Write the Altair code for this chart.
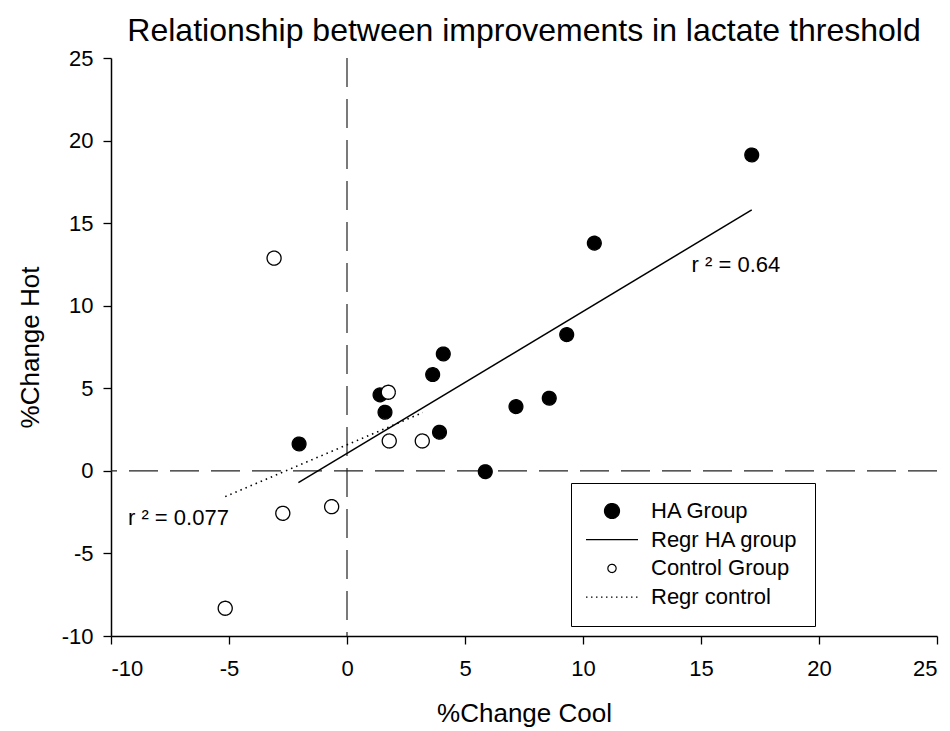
import altair as alt
import pandas as pd

# HA group (filled circles)
ha_x = [-2.03, 1.40, 1.61, 3.63, 4.08, 3.92, 5.86, 7.16, 8.57, 9.31, 10.48, 17.15]
ha_y = [1.63, 4.60, 3.55, 5.83, 7.08, 2.34, -0.05, 3.89, 4.40, 8.25, 13.79, 19.13]

# Control group (open circles)
ctrl_x = [-3.09, 1.75, 1.79, 3.19, -2.72, -0.65, -5.16]
ctrl_y = [12.88, 4.76, 1.81, 1.81, -2.57, -2.17, -8.32]

# Regression line end points
ha_fit_x = [-2.06, 17.15]
ha_fit_y = [-0.71, 15.80]
ctrl_fit_x = [-5.16, 3.21]
ctrl_fit_y = [-1.56, 3.53]

legend_names = ["HA Group", "Regr HA group", "Control Group", "Regr control"]
tick_values = [-10, -5, 0, 5, 10, 15, 20, 25]

r2_text = ["r ² = 0.64", "r ² = 0.077"]
r2_x = [14.6, -9.28]
r2_y = [12.45, -2.85]

FONT = "Liberation Sans"

ha_pts = pd.DataFrame({"x": ha_x, "y": ha_y, "series": "HA Group"})
ctrl_pts = pd.DataFrame({"x": ctrl_x, "y": ctrl_y, "series": "Control Group"})
ha_fit = pd.DataFrame({"x": ha_fit_x, "y": ha_fit_y})
ctrl_fit = pd.DataFrame({"x": ctrl_fit_x, "y": ctrl_fit_y})
labels = pd.DataFrame({"x": r2_x, "y": r2_y, "t": r2_text})
zero = pd.DataFrame({"v": [0]})

# plain hyphen for negative tick labels
PLAIN_LABEL = "'' + datum.value"

scale = alt.Scale(domain=[-10, 25], nice=False, zero=False)
x_axis = alt.Axis(values=tick_values, title="%Change Cool", grid=False, labelExpr=PLAIN_LABEL,
                  tickSize=8, labelPadding=14, titlePadding=21)
y_axis = alt.Axis(values=tick_values, title="%Change Hot", grid=False, labelExpr=PLAIN_LABEL,
                  tickSize=8, labelPadding=10, titlePadding=18)

X = alt.X("x:Q", scale=scale, axis=x_axis)
Y = alt.Y("y:Q", scale=scale, axis=y_axis)

# symbol shapes (unit box -1..1): full circle, small open circle,
# and a long horizontal stroke standing for the fit lines
SMALL_CIRCLE = "M-0.55,0A0.55,0.55,0,1,1,0.55,0A0.55,0.55,0,1,1,-0.55,0Z"
STROKE = "M-3.47,0L3.47,0"

legend = alt.Legend(
    title=None,
    orient="none",
    legendX=460,
    legendY=425,
    direction="vertical",
    strokeColor="black",
    fillColor="white",
    padding=17,
    rowPadding=6.7,
    symbolSize=225,
    symbolStrokeWidth=1.2,
    symbolStrokeColor="black",
    symbolOpacity=1,
    symbolOffset=13,
    labelOffset=28,
    labelFont=FONT,
    labelFontSize=22,
    labelColor="black",
)

series_fill = alt.Fill(
    "series:N",
    scale=alt.Scale(domain=legend_names, range=["black", "transparent", "white", "transparent"]),
    legend=legend,
)
series_stroke = alt.Stroke(
    "series:N",
    scale=alt.Scale(domain=legend_names, range=["black", "black", "black", "black"]),
    legend=legend,
)
series_shape = alt.Shape(
    "series:N",
    scale=alt.Scale(domain=legend_names, range=["circle", STROKE, SMALL_CIRCLE, STROKE]),
    legend=legend,
)
series_dash = alt.StrokeDash(
    "series:N",
    scale=alt.Scale(domain=legend_names, range=[[1, 0], [1, 0], [1, 0], [1.5, 3.5]]),
    legend=legend,
)

hline = alt.Chart(zero).mark_rule(color="#222", strokeWidth=1.2, strokeDash=[29, 12]).encode(
    y=alt.Y("v:Q", scale=scale, axis=y_axis)
)
vline = alt.Chart(zero).mark_rule(color="#222", strokeWidth=1.2, strokeDash=[29, 12]).encode(
    x=alt.X("v:Q", scale=scale, axis=x_axis)
)

ha_line = alt.Chart(ha_fit).mark_line(color="black", strokeWidth=1.5).encode(x=X, y=Y)
ctrl_line = alt.Chart(ctrl_fit).mark_line(color="black", strokeWidth=1.6, strokeDash=[1.5, 4]).encode(x=X, y=Y)

ha_dots = alt.Chart(ha_pts).mark_point(
    size=190, strokeWidth=1.3, opacity=1, filled=True
).encode(x=X, y=Y, fill=series_fill, stroke=series_stroke, shape=series_shape, strokeDash=series_dash)

ctrl_dots = alt.Chart(ctrl_pts).mark_point(
    size=650, strokeWidth=1.3, opacity=1, filled=True
).encode(x=X, y=Y, fill=series_fill, stroke=series_stroke, shape=series_shape, strokeDash=series_dash)

r2 = alt.Chart(labels).mark_text(
    align="left", baseline="middle", font=FONT, fontSize=22, color="black"
).encode(x=X, y=Y, text="t:N")

chart = alt.layer(hline, vline, ha_line, ctrl_line, ha_dots, ctrl_dots, r2).properties(
    width=826,
    height=578,
    background="white",
    autosize=alt.AutoSizeParams(type="none"),
    padding={"left": 111, "top": 58, "right": 13, "bottom": 95},
    title=alt.TitleParams(
        "Relationship between improvements in lactate threshold",
        font=FONT, fontSize=32, fontWeight="normal", color="black",
        anchor="middle", offset=5, dy=6,
    ),
).configure_view(stroke=None).configure_axis(
    domainColor="black", domainWidth=1.5, tickColor="black", tickWidth=1.3,
    labelFont=FONT, labelFontSize=22, labelColor="black",
    titleFont=FONT, titleFontSize=26, titleFontWeight="normal", titleColor="black",
)

chart.save("out.html", embed_options={"renderer": "svg", "actions": False})
